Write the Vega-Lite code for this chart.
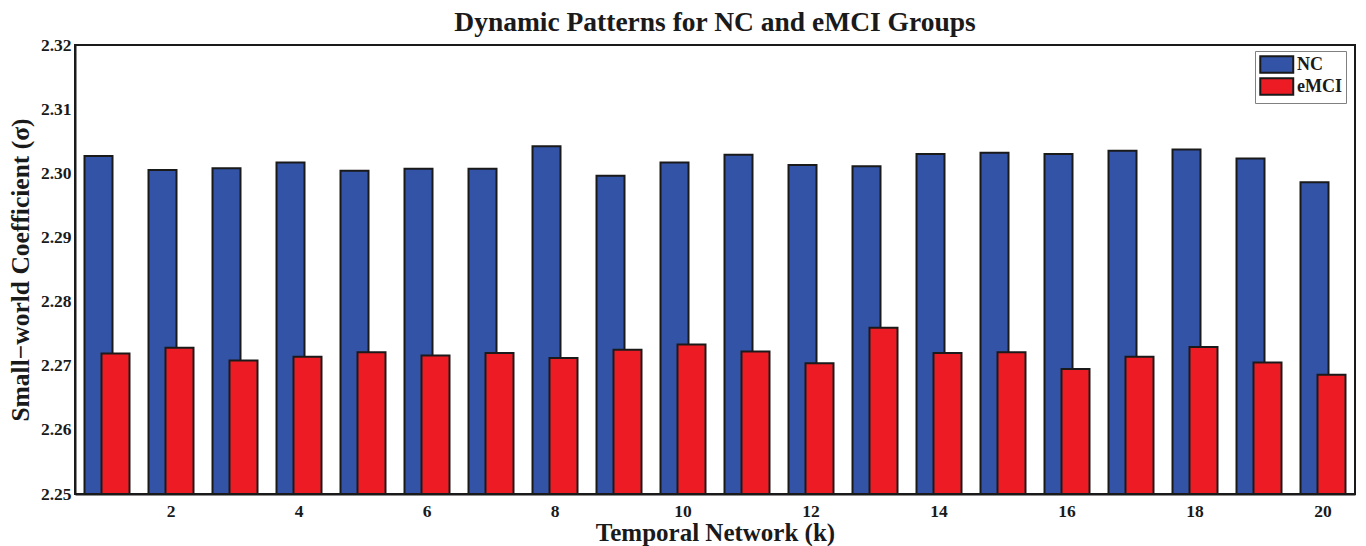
{
  "$schema": "https://vega.github.io/schema/vega-lite/v6.json",
  "autosize": {"type": "none"},
  "width": 1280,
  "height": 449,
  "padding": {"left": 75, "top": 45, "right": 11, "bottom": 52},
  "background": "white",
  "title": {
    "text": "Dynamic Patterns for NC and eMCI Groups",
    "font": "Liberation Serif",
    "fontSize": 27.5,
    "fontWeight": "bold",
    "color": "#1a1a1a",
    "anchor": "middle",
    "offset": 0
  },
  "config": {
    "view": {"stroke": "#1a1a1a", "strokeWidth": 2},
    "axis": {
      "labelFont": "Liberation Serif",
      "labelFontWeight": "bold",
      "labelFontSize": 17.5,
      "labelColor": "#1a1a1a",
      "titleFont": "Liberation Serif",
      "titleFontWeight": "bold",
      "titleColor": "#1a1a1a",
      "domainColor": "#1a1a1a",
      "domainWidth": 2,
      "ticks": false,
      "grid": false
    }
  },
  "data": {
    "values": [
      {"k": 1, "group": "NC", "value": 2.3027}, {"k": 1, "group": "eMCI", "value": 2.2719},
      {"k": 2, "group": "NC", "value": 2.3005}, {"k": 2, "group": "eMCI", "value": 2.2728},
      {"k": 3, "group": "NC", "value": 2.3008}, {"k": 3, "group": "eMCI", "value": 2.2708},
      {"k": 4, "group": "NC", "value": 2.3017}, {"k": 4, "group": "eMCI", "value": 2.2714},
      {"k": 5, "group": "NC", "value": 2.3004}, {"k": 5, "group": "eMCI", "value": 2.2721},
      {"k": 6, "group": "NC", "value": 2.3007}, {"k": 6, "group": "eMCI", "value": 2.2716},
      {"k": 7, "group": "NC", "value": 2.3007}, {"k": 7, "group": "eMCI", "value": 2.2720},
      {"k": 8, "group": "NC", "value": 2.3042}, {"k": 8, "group": "eMCI", "value": 2.2712},
      {"k": 9, "group": "NC", "value": 2.2996}, {"k": 9, "group": "eMCI", "value": 2.2725},
      {"k": 10, "group": "NC", "value": 2.3017}, {"k": 10, "group": "eMCI", "value": 2.2733},
      {"k": 11, "group": "NC", "value": 2.3029}, {"k": 11, "group": "eMCI", "value": 2.2722},
      {"k": 12, "group": "NC", "value": 2.3013}, {"k": 12, "group": "eMCI", "value": 2.2704},
      {"k": 13, "group": "NC", "value": 2.3011}, {"k": 13, "group": "eMCI", "value": 2.2759},
      {"k": 14, "group": "NC", "value": 2.3030}, {"k": 14, "group": "eMCI", "value": 2.2720},
      {"k": 15, "group": "NC", "value": 2.3032}, {"k": 15, "group": "eMCI", "value": 2.2721},
      {"k": 16, "group": "NC", "value": 2.3030}, {"k": 16, "group": "eMCI", "value": 2.2695},
      {"k": 17, "group": "NC", "value": 2.3035}, {"k": 17, "group": "eMCI", "value": 2.2714},
      {"k": 18, "group": "NC", "value": 2.3037}, {"k": 18, "group": "eMCI", "value": 2.2729},
      {"k": 19, "group": "NC", "value": 2.3023}, {"k": 19, "group": "eMCI", "value": 2.2705},
      {"k": 20, "group": "NC", "value": 2.2986}, {"k": 20, "group": "eMCI", "value": 2.2686}
    ]
  },
  "encoding": {
    "x": {
      "field": "k",
      "type": "ordinal",
      "sort": "ascending",
      "scale": {"paddingInner": 0, "paddingOuter": 0},
      "axis": {
        "title": "Temporal Network (k)",
        "titleFontSize": 25,
        "titlePadding": 1,
        "labelAngle": 0,
        "labelPadding": 8,
        "labelExpr": "datum.value % 2 == 0 ? datum.label : ''"
      }
    },
    "y": {
      "field": "value",
      "type": "quantitative",
      "scale": {"domain": [2.25, 2.32], "zero": false, "nice": false},
      "axis": {
        "title": "Small−world Coefficient (σ)",
        "titleFontSize": 25.5,
        "titlePadding": 7,
        "labelPadding": 4,
        "format": ".2f",
        "values": [2.25, 2.26, 2.27, 2.28, 2.29, 2.30, 2.31, 2.32]
      }
    },
    "y2": {"datum": 2.25},
    "color": {
      "field": "group",
      "type": "nominal",
      "scale": {"domain": ["NC", "eMCI"], "range": ["#3253a6", "#ed1c24"]},
      "legend": {
        "title": null,
        "orient": "none",
        "legendX": 1180,
        "legendY": 6,
        "padding": 4,
        "strokeColor": "#808080",
        "fillColor": "white",
        "symbolType": "M-1,-1H3V1H-1Z",
        "symbolSize": 272,
        "symbolStrokeColor": "#1a1a1a",
        "symbolStrokeWidth": 2,
        "symbolOpacity": 1,
        "labelOffset": 19,
        "labelFont": "Liberation Serif",
        "labelFontWeight": "bold",
        "labelFontSize": 18,
        "labelColor": "#1a1a1a",
        "rowPadding": -3
      }
    }
  },
  "layer": [
    {
      "transform": [{"filter": "datum.group === 'NC'"}],
      "mark": {"type": "bar", "width": 28, "xOffset": -8.5, "stroke": "#1a1a1a", "strokeWidth": 2, "opacity": 1}
    },
    {
      "transform": [{"filter": "datum.group === 'eMCI'"}],
      "mark": {"type": "bar", "width": 28, "xOffset": 8.5, "stroke": "#1a1a1a", "strokeWidth": 2, "opacity": 1}
    }
  ]
}
